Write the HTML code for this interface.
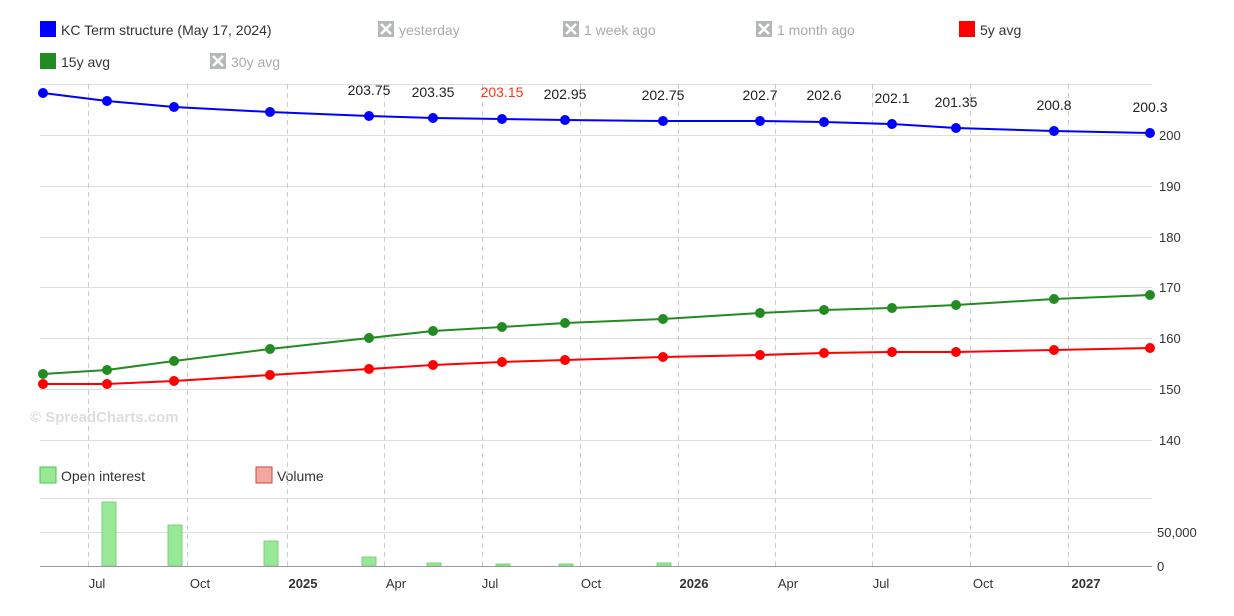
<!DOCTYPE html><html><head><style>body{margin:0;background:#fff;font-family:"Liberation Sans",sans-serif}</style></head><body>
<svg width="1234" height="611" xmlns="http://www.w3.org/2000/svg" font-family="Liberation Sans, sans-serif" font-size="14">
<g font-size="14">
<rect x="40" y="21" width="16" height="16" fill="#0000ff"/><text x="61" y="35" fill="#333">KC Term structure (May 17, 2024)</text>
<g fill="#aaa"><rect x="378" y="21" width="16" height="16" fill="#b5b8b8"/><text x="399" y="35">yesterday</text>
<rect x="563" y="21" width="16" height="16" fill="#b5b8b8"/><text x="584" y="35">1 week ago</text>
<rect x="756" y="21" width="16" height="16" fill="#b5b8b8"/><text x="777" y="35">1 month ago</text>
<rect x="210" y="53" width="16" height="16" fill="#b5b8b8"/><text x="231" y="67">30y avg</text></g>
<g stroke="#fff" stroke-width="2.5"><path d="M381 24l10 10M391 24l-10 10M566 24l10 10M576 24l-10 10M759 24l10 10M769 24l-10 10M213 56l10 10M223 56l-10 10"/></g>
<rect x="959" y="21" width="16" height="16" fill="#ff0000"/><text x="980" y="35" fill="#333">5y avg</text>
<rect x="40" y="53" width="16" height="16" fill="#228b22"/><text x="61" y="67" fill="#333">15y avg</text>
<rect x="40" y="467" width="16" height="16" fill="#98e898" stroke="#4c4" stroke-width="1"/><text x="61" y="481" fill="#333">Open interest</text>
<rect x="256" y="467" width="16" height="16" fill="#f0a8a0" stroke="#c44" stroke-width="1"/><text x="277" y="481" fill="#333">Volume</text>
</g>
<g stroke="#ddd" stroke-width="1">
<path d="M40 84.5H1152M40 135.5H1152M40 186.5H1152M40 237.5H1152M40 287.5H1152M40 338.5H1152M40 389.5H1152M40 440.5H1152M40 498.5H1152M40 532.5H1152"/></g>
<g stroke="#ccc" stroke-dasharray="5,4"><path d="M88.5 84V566M187.5 84V566M287.5 84V566M384.5 84V566M482.5 84V566M580.5 84V566M678.5 84V566M775.5 84V566M872.5 84V566M970.5 84V566M1068.5 84V566"/></g>
<g fill="#333" font-size="13"><text x="1159" y="140">200</text><text x="1159" y="191">190</text><text x="1159" y="242">180</text><text x="1159" y="292">170</text><text x="1159" y="343">160</text><text x="1159" y="394">150</text><text x="1159" y="445">140</text><text x="1157" y="537">50,000</text><text x="1157" y="571">0</text></g>
<text x="30" y="422" fill="#ddd" font-size="15" font-weight="bold">© SpreadCharts.com</text>
<g fill="#98e898" stroke="#7cd07c"><rect x="102" y="502" width="14" height="64"/><rect x="168" y="525" width="14" height="41"/><rect x="264" y="541" width="14" height="25"/><rect x="362" y="557" width="14" height="9"/><rect x="427" y="563" width="14" height="3"/><rect x="496" y="564" width="14" height="2"/><rect x="559" y="564" width="14" height="2"/><rect x="657" y="563" width="14" height="3"/></g>
<path d="M40 566.5H1152" stroke="#999"/>
<polyline fill="none" stroke="#0000ff" stroke-width="2" points="43,93 107,101 174,107 270,112 369,116 433,118 502,119 565,120 663,121 760,121 824,122 892,124 956,128 1054,131 1150,133"/>
<g fill="#0000ff"><circle cx="43" cy="93" r="5"/><circle cx="107" cy="101" r="5"/><circle cx="174" cy="107" r="5"/><circle cx="270" cy="112" r="5"/><circle cx="369" cy="116" r="5"/><circle cx="433" cy="118" r="5"/><circle cx="502" cy="119" r="5"/><circle cx="565" cy="120" r="5"/><circle cx="663" cy="121" r="5"/><circle cx="760" cy="121" r="5"/><circle cx="824" cy="122" r="5"/><circle cx="892" cy="124" r="5"/><circle cx="956" cy="128" r="5"/><circle cx="1054" cy="131" r="5"/><circle cx="1150" cy="133" r="5"/></g>
<polyline fill="none" stroke="#228b22" stroke-width="2" points="43,374 107,370 174,361 270,349 369,338 433,331 502,327 565,323 663,319 760,313 824,310 892,308 956,305 1054,299 1150,295"/>
<g fill="#228b22"><circle cx="43" cy="374" r="5"/><circle cx="107" cy="370" r="5"/><circle cx="174" cy="361" r="5"/><circle cx="270" cy="349" r="5"/><circle cx="369" cy="338" r="5"/><circle cx="433" cy="331" r="5"/><circle cx="502" cy="327" r="5"/><circle cx="565" cy="323" r="5"/><circle cx="663" cy="319" r="5"/><circle cx="760" cy="313" r="5"/><circle cx="824" cy="310" r="5"/><circle cx="892" cy="308" r="5"/><circle cx="956" cy="305" r="5"/><circle cx="1054" cy="299" r="5"/><circle cx="1150" cy="295" r="5"/></g>
<polyline fill="none" stroke="#ff0000" stroke-width="2" points="43,384 107,384 174,381 270,375 369,369 433,365 502,362 565,360 663,357 760,355 824,353 892,352 956,352 1054,350 1150,348"/>
<g fill="#ff0000"><circle cx="43" cy="384" r="5"/><circle cx="107" cy="384" r="5"/><circle cx="174" cy="381" r="5"/><circle cx="270" cy="375" r="5"/><circle cx="369" cy="369" r="5"/><circle cx="433" cy="365" r="5"/><circle cx="502" cy="362" r="5"/><circle cx="565" cy="360" r="5"/><circle cx="663" cy="357" r="5"/><circle cx="760" cy="355" r="5"/><circle cx="824" cy="353" r="5"/><circle cx="892" cy="352" r="5"/><circle cx="956" cy="352" r="5"/><circle cx="1054" cy="350" r="5"/><circle cx="1150" cy="348" r="5"/></g>
<g fill="#222" text-anchor="middle" font-size="14"><text x="369" y="95">203.75</text><text x="433" y="97">203.35</text><text x="502" y="97" fill="#ff3311">203.15</text><text x="565" y="99">202.95</text><text x="663" y="100">202.75</text><text x="760" y="100">202.7</text><text x="824" y="100">202.6</text><text x="892" y="103">202.1</text><text x="956" y="107">201.35</text><text x="1054" y="110">200.8</text><text x="1150" y="112">200.3</text></g>
<g fill="#333" text-anchor="middle" font-size="13"><text x="97" y="588">Jul</text><text x="200" y="588">Oct</text><text x="303" y="588" font-weight="bold">2025</text><text x="396" y="588">Apr</text><text x="490" y="588">Jul</text><text x="591" y="588">Oct</text><text x="694" y="588" font-weight="bold">2026</text><text x="788" y="588">Apr</text><text x="881" y="588">Jul</text><text x="983" y="588">Oct</text><text x="1086" y="588" font-weight="bold">2027</text></g>
</svg></body></html>
